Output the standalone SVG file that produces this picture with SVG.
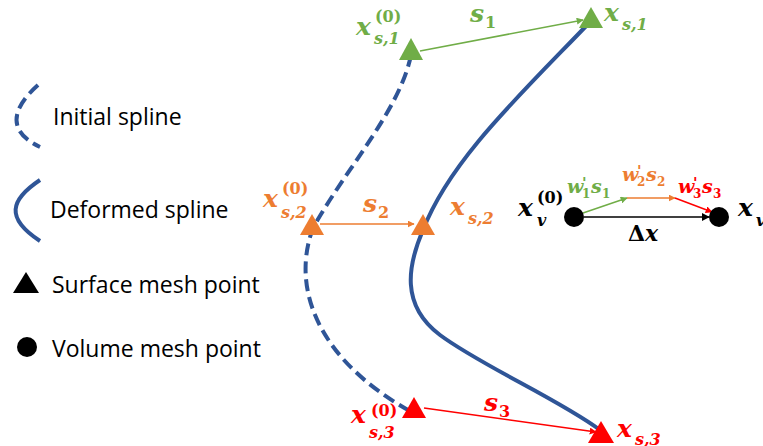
<svg xmlns="http://www.w3.org/2000/svg" width="763" height="446" viewBox="0 0 763 446">
<style>
.leg{font-family:"Open Sans","Noto Sans",sans-serif;font-size:23px;fill:#000}
.m{font-family:"DejaVu Serif","Liberation Serif",serif;font-weight:bold;font-style:italic}
.up{font-style:normal}
.g{fill:#70AD47}.o{fill:#ED7D31}.r{fill:#FF0000}.k{fill:#000}
.spl{fill:none;stroke:#2F5597;stroke-width:4}
.dash{stroke-dasharray:12 6}
</style>
<defs>
<marker id="ag" viewBox="0 0 10 10" refX="9" refY="5" markerWidth="7" markerHeight="7" orient="auto" markerUnits="userSpaceOnUse"><path d="M0,0L10,5L0,10z" fill="#70AD47"/></marker>
<marker id="ao" viewBox="0 0 10 10" refX="9" refY="5" markerWidth="7" markerHeight="7" orient="auto" markerUnits="userSpaceOnUse"><path d="M0,0L10,5L0,10z" fill="#ED7D31"/></marker>
<marker id="ar" viewBox="0 0 10 10" refX="9" refY="5" markerWidth="7" markerHeight="7" orient="auto" markerUnits="userSpaceOnUse"><path d="M0,0L10,5L0,10z" fill="#FF0000"/></marker>
<marker id="ak" viewBox="0 0 10 10" refX="9" refY="5" markerWidth="8" markerHeight="8" orient="auto" markerUnits="userSpaceOnUse"><path d="M0,0L10,5L0,10z" fill="#000"/></marker>
</defs>

<g id="legend">
<path class="spl dash" d="M38,85 C10,110 8,132 40,147"/>
<text class="leg" x="53" y="125">Initial spline</text>
<path class="spl" d="M40,180 C10,200 5,218 40,241"/>
<text class="leg" x="50" y="218">Deformed spline</text>
<polygon points="26,272 13,293 39,293" fill="#000"/>
<text class="leg" x="52" y="293">Surface mesh point</text>
<circle cx="27" cy="347" r="10" fill="#000"/>
<text class="leg" x="52" y="357">Volume mesh point</text>
</g>

<g id="splines">
<path id="initial-spline" class="spl dash" d="M411,55 C400,110 345,170 313,228 C290,290 320,360 408,410"/>
<path id="deformed-spline" class="spl" d="M590,22 C520,95 450,160 423,230 C408,265 400,305 440,335 C480,365 560,400 600,430"/>
</g>

<g id="connectors">
<line x1="420" y1="51" x2="583" y2="20" stroke="#70AD47" stroke-width="1.5" marker-end="url(#ag)"/>
<line x1="320" y1="224" x2="414" y2="224" stroke="#ED7D31" stroke-width="1.5" marker-end="url(#ao)"/>
<line x1="424" y1="408" x2="596" y2="432" stroke="#FF0000" stroke-width="1.5" marker-end="url(#ar)"/>
<line x1="584" y1="217" x2="709" y2="217" stroke="#000" stroke-width="1.5" marker-end="url(#ak)"/>
<line x1="583" y1="213" x2="627" y2="198" stroke="#70AD47" stroke-width="1.5" marker-end="url(#ag)"/>
<line x1="627" y1="198" x2="675" y2="198" stroke="#ED7D31" stroke-width="1.5" marker-end="url(#ao)"/>
<line x1="675" y1="198" x2="712" y2="212" stroke="#FF0000" stroke-width="1.5" marker-end="url(#ar)"/>
</g>

<g id="p1-initial">
<polygon points="411,38 399,60 423,60" fill="#70AD47"/>
<text class="m g" x="356" y="35" font-size="25">x</text>
<text class="m g up" x="375" y="22" font-size="16">(0)</text>
<text class="m g" x="374" y="44" font-size="16">s,1</text>
</g>
<g id="p1-deformed">
<polygon points="591,7 579,28 603,28" fill="#70AD47"/>
<text class="m g" x="604" y="21" font-size="25">x</text>
<text class="m g" x="622" y="30" font-size="16">s,1</text>
</g>
<g id="s1-label">
<text class="m g" x="470" y="22" font-size="25">s</text>
<text class="m g up" x="485" y="28" font-size="16">1</text>
</g>

<g id="p2-initial">
<polygon points="312,214 300,235 324,235" fill="#ED7D31"/>
<text class="m o" x="263" y="207" font-size="25">x</text>
<text class="m o up" x="282" y="194" font-size="16">(0)</text>
<text class="m o" x="281" y="218" font-size="16">s,2</text>
</g>
<g id="p2-deformed">
<polygon points="423,214 411,235 435,235" fill="#ED7D31"/>
<text class="m o" x="450" y="215" font-size="25">x</text>
<text class="m o" x="468" y="224" font-size="16">s,2</text>
</g>
<g id="s2-label">
<text class="m o" x="363" y="212" font-size="25">s</text>
<text class="m o up" x="378" y="218" font-size="16">2</text>
</g>

<g id="p3-initial">
<polygon points="414,397 402,418 426,418" fill="#FF0000"/>
<text class="m r" x="351" y="423" font-size="25">x</text>
<text class="m r up" x="371" y="416" font-size="16">(0)</text>
<text class="m r" x="369" y="438" font-size="16">s,3</text>
</g>
<g id="p3-deformed">
<polygon points="601,421 588,443 614,443" fill="#FF0000"/>
<text class="m r" x="617" y="437" font-size="25">x</text>
<text class="m r" x="635" y="445" font-size="16">s,3</text>
</g>
<g id="s3-label">
<text class="m r" x="484" y="411" font-size="25">s</text>
<text class="m r up" x="499" y="417" font-size="16">3</text>
</g>

<g id="volume-initial">
<circle cx="574" cy="217" r="10" fill="#000"/>
<text class="m k" x="518" y="216" font-size="25">x</text>
<text class="m k up" x="537" y="203" font-size="16">(0)</text>
<text class="m k" x="537" y="226" font-size="16">v</text>
</g>
<g id="volume-deformed">
<circle cx="719" cy="217" r="10" fill="#000"/>
<text class="m k" x="738" y="216" font-size="25">x</text>
<text class="m k" x="756" y="226" font-size="16">v</text>
</g>
<g id="inset-labels">
<text class="m k" x="628" y="241" font-size="22"><tspan class="up">Δ</tspan>x</text>
<text class="m g" font-size="19"><tspan x="567" y="193">w</tspan><tspan class="up" x="582" y="188" font-size="15">'</tspan><tspan class="up" x="582" y="198" font-size="12">1</tspan><tspan x="591" y="193">s</tspan><tspan class="up" x="602" y="198" font-size="12">1</tspan></text>
<text class="m o" font-size="19"><tspan x="622" y="181">w</tspan><tspan class="up" x="637" y="176" font-size="15">'</tspan><tspan class="up" x="637" y="186" font-size="12">2</tspan><tspan x="646" y="181">s</tspan><tspan class="up" x="657" y="186" font-size="12">2</tspan></text>
<text class="m r" font-size="19"><tspan x="678" y="193">w</tspan><tspan class="up" x="693" y="188" font-size="15">'</tspan><tspan class="up" x="693" y="198" font-size="12">3</tspan><tspan x="702" y="193">s</tspan><tspan class="up" x="713" y="198" font-size="12">3</tspan></text>
</g>
</svg>
